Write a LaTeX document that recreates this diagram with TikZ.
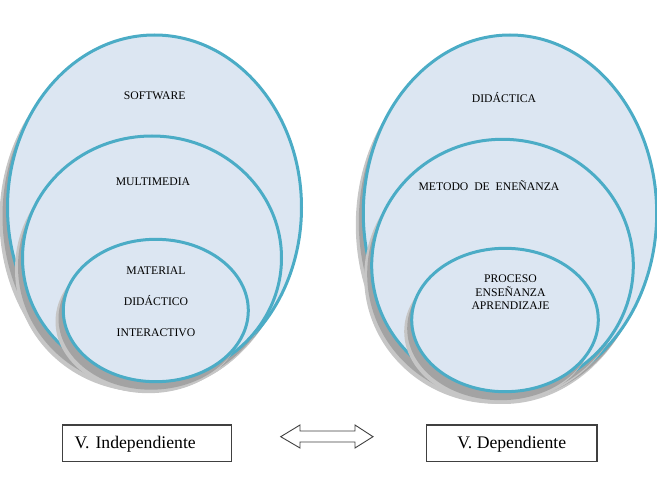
\documentclass[tikz,border=0pt]{standalone}
\usepackage{fontspec}
\setmainfont{Liberation Serif}

\definecolor{ringblue}{HTML}{4BACC6}
\definecolor{ringfill}{HTML}{DCE6F2}

\tikzset{
  ring/.style={draw=ringblue, line width=3pt, fill=ringfill},
  softshade/.style={fill=gray!45},
  darkshade/.style={fill=gray!72},
  lbl/.style={font=\fontsize{11.7}{13}\selectfont, inner sep=0pt, anchor=base},
  varbox/.style={draw=black!75, line width=1.2pt, minimum height=36.7pt,
    text height=15pt, text depth=3.6pt, font=\fontsize{17.7}{20}\selectfont},
}

\begin{document}
\begin{tikzpicture}[x=1pt, y=-1pt]
\useasboundingbox (0,0) rectangle (657,489);

% Left set: outer ellipse
\fill[softshade] (147,219) ellipse (147.5 and 173.5);
\fill[darkshade] (149.5,216) ellipse (147 and 172.5);
\draw[ring] (154.5,207.5) ellipse (147 and 172.5);
% Left set: middle ellipse
\fill[softshade] (145,269.5) ellipse (130 and 122.5);
\fill[darkshade] (147.5,266.5) ellipse (129.5 and 122);
\draw[ring] (152,258) ellipse (129.5 and 122);
% Left set: inner ellipse
\fill[softshade] (148.5,321.5) ellipse (93 and 71.7);
\fill[darkshade] (151,318.5) ellipse (92.5 and 71.2);
\draw[ring] (155.8,310.5) ellipse (92.5 and 71.2);

\node (software) [lbl] at (154.7,99.3) {SOFTWARE};
\node (multimedia) [lbl] at (153,186) {MULTIMEDIA};
\node (material) [lbl] at (156,275) {MATERIAL};
\node (didactico) [lbl] at (156,306) {DIDÁCTICO};
\node (interactivo) [lbl] at (156,337) {INTERACTIVO};

% Right set: outer ellipse
\fill[softshade] (503,225) ellipse (147.2 and 179);
\fill[darkshade] (505.5,222) ellipse (146.7 and 178.3);
\draw[ring] (510,213.3) ellipse (146.7 and 178.3);
% Right set: middle ellipse
\fill[softshade] (495.5,277) ellipse (131.3 and 126.7);
\fill[darkshade] (498,274) ellipse (130.8 and 126.2);
\draw[ring] (502.5,265.5) ellipse (130.8 and 126.2);
% Right set: inner ellipse
\fill[softshade] (498,331.5) ellipse (93.8 and 72.2);
\fill[darkshade] (500.5,328.5) ellipse (93.3 and 71.7);
\draw[ring] (505,320) ellipse (93.3 and 71.7);

\node (didactica) [lbl] at (504,103) {DIDÁCTICA};
\node (metodo) [lbl] at (489,190.7) {METODO\ \ DE\ \ ENEÑANZA};
\node (proceso) [lbl] at (510.5,283) {PROCESO};
\node (ensenanza) [lbl] at (510.5,297) {ENSEÑANZA};
\node (aprendizaje) [lbl] at (510.5,310) {APRENDIZAJE};

% Variables
\node (indep) [varbox, text width=145pt, inner xsep=12pt, align=left] at (147.2,443.3) {V. Independiente};
\node (dep) [varbox, minimum width=170.3pt] at (511.8,443.3) {V. Dependiente};

% Double arrow between the variables
\draw[black!75, line width=0.9pt, fill=white, line join=miter]
  (280.7,436.7) -- (300,425) -- (300,431) -- (355,431) -- (355,425)
  -- (373,436.7) -- (355,448) -- (355,442) -- (300,442) -- (300,448) -- cycle;
\end{tikzpicture}
\end{document}
